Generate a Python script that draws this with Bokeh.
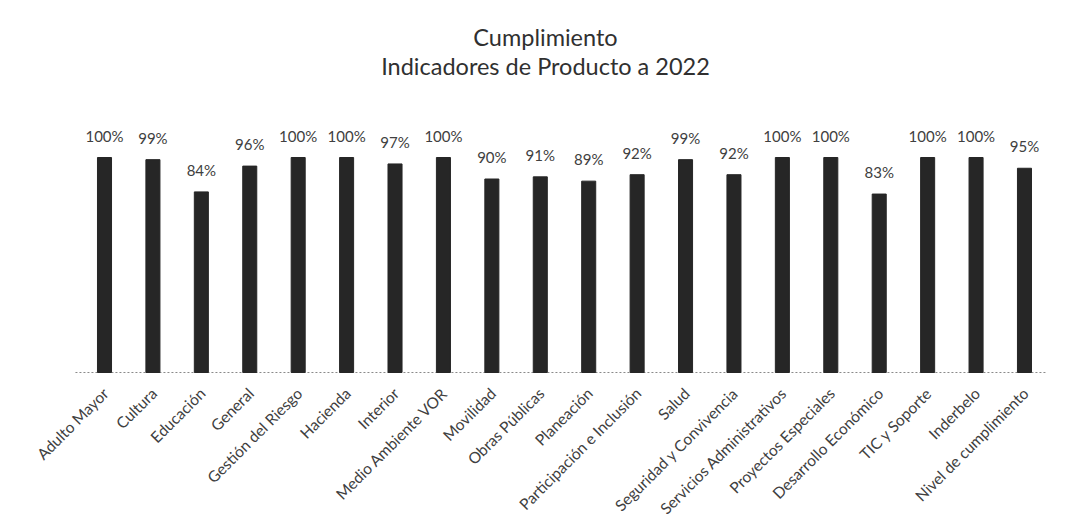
import math
from bokeh.plotting import figure
from bokeh.models import ColumnDataSource, Range1d
from bokeh.core.properties import value
from bokeh.embed import file_html
from bokeh.resources import INLINE

categories = ["Adulto Mayor", "Cultura", "Educación", "General", "Gestión del Riesgo",
              "Hacienda", "Interior", "Medio Ambiente VOR", "Movilidad", "Obras Públicas",
              "Planeación", "Participación e Inclusión", "Salud", "Seguridad y Convivencia",
              "Servicios Administrativos", "Proyectos Especiales", "Desarrollo Económico",
              "TIC y Soporte", "Inderbelo", "Nivel de cumplimiento"]
values = [100, 99, 84, 96, 100, 100, 97, 100, 90, 91, 89, 92, 99, 92, 100, 100, 83, 100, 100, 95]
labels = [f"{v}%" for v in values]
title_lines = ["Cumplimiento", "Indicadores de Producto a 2022"]

n = len(categories)
idx = list(range(n))
src = ColumnDataSource(dict(x=idx, cat=categories, val=values, lab=labels, zero=[0] * n))

W, H = 1053, 522
PX_X = 48.42          # pixels per category
PX_Y = 2.15           # pixels per percent
X0, Y0 = 104, 372     # canvas position of first bar centre / baseline

FONT = "Lato"
TXT = "#404040"
p = figure(x_range=Range1d(-X0 / PX_X, (W - X0) / PX_X),
           y_range=Range1d(-(H - Y0) / PX_Y, Y0 / PX_Y),
           width=W, height=H, output_backend="svg", toolbar_location=None, title=None,
           min_border=0)

# baseline (dotted)
p.segment(x0=-0.6, y0=0, x1=n - 0.55, y1=0, line_color="#8a8a8a", line_dash="2 2", line_width=1)

p.vbar(x="x", top="val", width=0.29, source=src, color="#262626")

p.text(x="x", y="val", text="lab", source=src, y_offset=-13,
       text_align="center", text_baseline="bottom", text_font_size="15px",
       text_font=value(FONT), text_color=TXT)

p.text(x="x", y="zero", text="cat", source=src, y_offset=18, x_offset=1,
       angle=math.pi / 4, text_align="right", text_baseline="middle",
       text_font_size="15.5px", text_font=value(FONT), text_color=TXT)

tx = (545 - X0) / PX_X
tsrc = ColumnDataSource(dict(x=[tx, tx], y=[(Y0 - 36) / PX_Y, (Y0 - 65) / PX_Y], t=title_lines))
p.text(x="x", y="y", text="t", source=tsrc, text_align="center", text_baseline="middle",
       text_font=value(FONT), text_font_size="23.5px", text_color="#303030")

p.xaxis.visible = False
p.yaxis.visible = False
p.xgrid.grid_line_color = None
p.ygrid.grid_line_color = None
p.outline_line_color = None

open("out.html", "w").write(file_html(p, INLINE))
